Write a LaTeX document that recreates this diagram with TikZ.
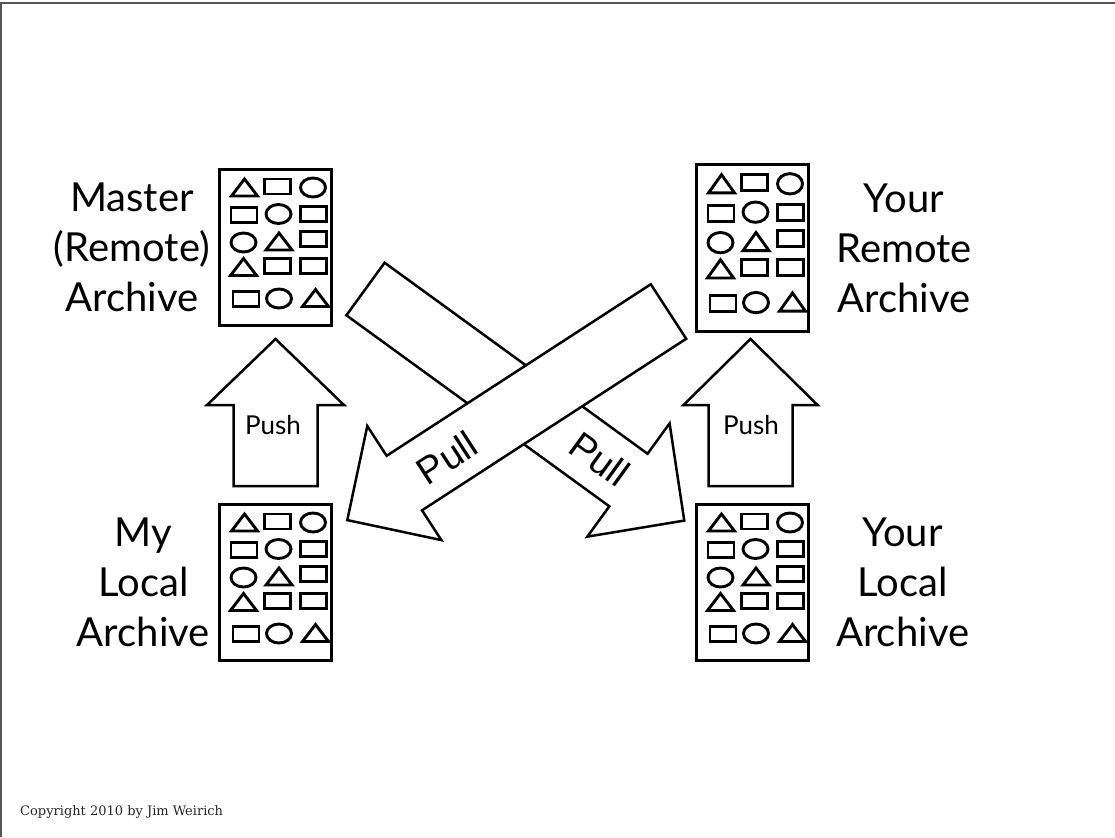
\documentclass[tikz,border=0pt]{standalone}
\usepackage{fontspec}
\setmainfont{Lato}
\newfontfamily\pullfont{Liberation Sans}
\newfontfamily\copyfont{DejaVu Serif}
\usetikzlibrary{positioning}
\definecolor{framegray}{HTML}{555555}

% little shapes inside an archive (offsets from the box centre, in px)
\newcommand{\icontri}[2]{\draw[icon] (#1-13,#2+8.5) -- (#1+13,#2+8.5) -- (#1,#2-8.5) -- cycle;}
\newcommand{\iconbox}[2]{\draw[icon] (#1-13,#2-7.5) rectangle (#1+13,#2+7.5);}
\newcommand{\iconoval}[2]{\draw[icon] (#1,#2) ellipse [x radius=12.5pt, y radius=9.5pt];}
\newcommand{\archiveicons}[2][]{%
  \begin{scope}[shift={(#2.center)}, #1]
    \icontri{-31}{-60} \iconbox{2}{-61} \iconoval{37.5}{-60}
    \iconbox{-31.5}{-32.5} \iconoval{3}{-33.5} \iconbox{38}{-33.5}
    \iconoval{-32}{-5} \icontri{3.5}{-6} \iconbox{38}{-8.5}
    \icontri{-32}{19.5} \iconbox{2}{18.5} \iconbox{38}{18.5}
    \iconbox{-29.5}{51.5} \iconoval{3.5}{51} \icontri{40}{50.5}
  \end{scope}}

\begin{document}
\begin{tikzpicture}[x=1pt, y=-1pt,
    archive/.style={rectangle, draw, line width=3pt, minimum width=112pt, minimum height=156pt, inner sep=0pt},
    icon/.style={draw, line width=2.9pt},
    blockarrow/.style={draw, fill=white, line width=2.5pt, line join=miter},
    sidetext/.style={align=center, inner sep=0pt, font=\fontsize{40}{50}\selectfont},
    pushtext/.style={inner sep=0pt, font=\fontsize{26}{30}\selectfont},
    pulltext/.style={inner sep=0pt, font=\pullfont\fontsize{38}{40}\selectfont}
]
    \useasboundingbox (0,0) rectangle (1115,837);

    % Slide frame
    \draw[framegray, line width=1.2pt] (1,837) -- (1,3) -- (1115,3);

    % Archives
    \node[archive] (master) at (275.5,247.5) {};
    \node[archive, minimum height=167pt] (yourremote) at (752.5,248) {};
    \node[archive] (mylocal) at (275.5,582.5) {};
    \node[archive] (yourlocal) at (752.5,582.5) {};
    \archiveicons{master}
    \archiveicons[yscale=1.07]{yourremote}
    \archiveicons{mylocal}
    \archiveicons{yourlocal}

    % Names beside the archives
    \node[sidetext, left=8pt of master] (mastername) {Master\\(Remote)\\Archive};
    \node[sidetext, left=8pt of mylocal] (mylocalname) {My\\Local\\Archive};
    \node[sidetext, right=26pt of yourremote] (yourremotename) {Your\\Remote\\Archive};
    \node[sidetext, right=26pt of yourlocal] (yourlocalname) {Your\\Local\\Archive};

    % Push arrows
    \draw[blockarrow] (233.5,486) -- (233.5,405) -- (207,405) -- (275.5,339)
        -- (344,405) -- (317.5,405) -- (317.5,486) -- cycle;
    \draw[blockarrow] (708.5,486) -- (708.5,405) -- (683.5,405) -- (750.5,339)
        -- (817.5,405) -- (792.5,405) -- (792.5,486) -- cycle;
    \node[pushtext] (pushmine) at (273,425) {Push};
    \node[pushtext] (pushyours) at (751,425) {Push};

    % Pull arrows (master -> your local underneath, your remote -> my local on top)
    \begin{scope}[shift={(365.5,289)}, rotate=-36]
        \draw[blockarrow] (0,-32.5) -- (325,-32.5) -- (325,-70) -- (394,0)
            -- (325,70) -- (325,32.5) -- (0,32.5) -- cycle;
    \end{scope}
    \begin{scope}[shift={(668.5,311.5)}, rotate=-147]
        \draw[blockarrow] (0,-32.5) -- (315,-32.5) -- (315,-68) -- (383,0)
            -- (315,68) -- (315,32.5) -- (0,32.5) -- cycle;
    \end{scope}
    \node[pulltext, rotate=33] (pullmine) at (447,458) {Pull};
    \node[pulltext, rotate=-36] (pullyours) at (600,459) {Pull};

    % Footer
    \node[anchor=west, inner sep=0pt, font=\copyfont\fontsize{13}{15}\selectfont, text=black!85] (copyright) at (20,812) {Copyright 2010 by Jim Weirich};

\end{tikzpicture}
\end{document}
